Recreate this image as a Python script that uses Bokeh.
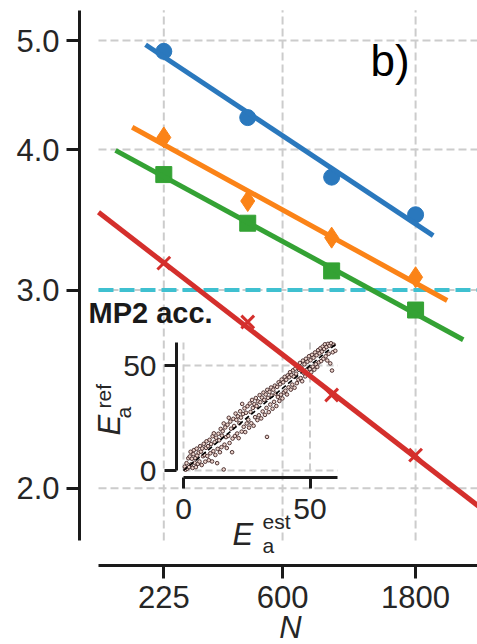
from bokeh.plotting import figure
from bokeh.models import (LogAxis, LinearAxis, FixedTicker, Range1d, Label,
                          LinearScale, BasicTickFormatter, PrintfTickFormatter)
from bokeh.embed import file_html
from bokeh.resources import INLINE

# ---------------- data ----------------
N = [225, 450, 900, 1800]
acc_circle = [4.89, 4.27, 3.78, 3.50]
acc_diamond = [4.10, 3.60, 3.34, 3.08]
acc_square = [3.80, 3.44, 3.12, 2.88]
acc_cross = [3.17, 2.81, 2.42, 2.14]

fit_N_circle = [193.5, 2082]
fit_circle = [4.957, 3.354]
fit_N_diamond = [173.3, 2337]
fit_diamond = [4.187, 2.937]
fit_N_square = [151.0, 2668]
fit_square = [3.993, 2.710]
fit_N_cross = [131.2, 3300]
fit_cross = [3.518, 1.896]

mp2_acc = 3.0

x_lim = [131.2, 3002]
y_lim = [1.797, 5.318]
x_ticks = [225, 600, 1800]
x_tick_labels = ["225", "600", "1800"]
y_ticks = [2.0, 3.0, 4.0, 5.0]
y_tick_labels = ["2.0", "3.0", "4.0", "5.0"]

inset_ticks = [0, 50]
inset_tick_labels = ["0", "50"]
inset_lim = [0, 61]
diag = [0, 60]

inset_est = [0.5, 0.8, 1.2, 1.5, 1.9, 2.2, 2.5, 2.8, 3.0, 3.3, 3.6, 3.9, 4.1, 4.4, 4.7, 4.9,
             5.2, 5.4, 5.7, 6.0, 6.3, 6.6, 6.9, 7.2, 7.4, 7.7, 8.0, 8.3, 8.6, 8.9, 9.1, 9.4, 9.7, 10.0,
             10.3, 10.6, 10.9, 11.3, 11.5, 11.8, 12.0, 12.3, 12.6, 12.9, 13.3, 13.5, 13.8, 14.1, 14.4, 14.7, 15.0, 15.2,
             15.5, 15.9, 15.9, 16.2, 16.5, 16.8, 17.1, 17.4, 17.7, 17.9, 18.2, 18.5, 18.8, 19.2, 19.4, 19.7, 20.0,
             20.3, 20.6, 20.9, 21.2, 21.5, 21.8, 22.1, 22.4, 22.7, 23.0, 23.2, 23.5, 23.8, 24.1, 24.4, 24.7, 25.0,
             25.3, 25.6, 25.9, 26.2, 26.5, 26.8, 27.1, 27.4, 27.7, 28.0, 28.3, 28.6, 28.9, 29.2, 29.5, 29.8, 30.1,
             30.4, 30.7, 31.0, 31.3, 31.6, 31.9, 32.2, 32.5, 32.8, 33.0, 33.1, 33.4, 33.7, 34.0, 34.3, 34.6, 34.9,
             35.2, 35.5, 35.8, 36.1, 36.4, 36.7, 37.0, 37.3, 37.6, 37.9, 38.2, 38.5, 38.8, 39.1, 39.4, 39.7, 40.0,
             40.3, 40.6, 40.9, 41.2, 41.5, 41.8, 42.1, 42.4, 42.7, 43.0, 43.3, 43.6, 43.9, 44.2, 44.5, 44.8,
             45.1, 45.4, 45.7, 46.0, 46.3, 46.6, 46.9, 47.2, 47.5, 47.8, 48.1, 48.4, 48.7, 49.0, 49.3, 49.6, 49.9,
             50.2, 50.5, 50.8, 51.1, 51.4, 51.7, 52.0, 52.3, 52.6, 52.9, 53.2, 53.5, 53.8, 54.1, 54.4, 54.7,
             55.0, 55.3, 55.6, 55.9, 56.2, 56.5, 56.8, 57.1, 57.4, 57.7, 58.0, 58.3, 58.7, 59.0, 59.4, 60.0]
inset_ref = [1.8, 0.4, 3.5, 0.9, 5.8, 1.6, 6.7, 8.9, 2.9, 5.6, 1.2, 7.8, 9.7, 3.7, 5.9, 1.6,
             10.4, 7.1, 3.2, 8.5, 4.3, 11.6, 9.0, 2.6, 10.5, 6.8, 12.7, 7.4, 4.2, 10.8, 13.9, 6.9, 11.6, 4.9,
             14.6, 8.2, 12.6, 4.3, 16.3, 9.2, 17.7, 13.5, 7.4, 15.6, 3.5, 10.3, 17.5, 14.4, 8.7, 19.8, 11.1, 16.6,
             18.7, 0.5, 22.4, 12.3, 20.5, 15.9, 10.7, 21.8, 16.5, 25.1, 13.1, 23.3, 19.9, 8.7, 15.2, 24.6, 21.2,
             16.4, 27.1, 24.1, 17.6, 25.8, 15.4, 22.5, 28.2, 25.2, 18.5, 31.7, 26.9, 20.8, 29.6, 18.3, 27.5, 22.4,
             30.6, 24.2, 20.4, 31.9, 27.9, 22.5, 33.6, 29.8, 21.3, 31.6, 25.4, 34.5, 30.7, 24.0, 32.9, 26.3, 35.9,
             32.5, 24.8, 34.7, 28.1, 37.1, 33.6, 26.5, 36.2, 29.8, 16.0, 38.4, 34.6, 27.8, 37.4, 31.4, 39.5, 35.7,
             29.4, 38.5, 32.7, 40.4, 36.6, 30.7, 39.8, 35.0, 42.0, 33.1, 41.1, 36.1, 43.3, 34.3, 42.0, 37.2, 44.6,
             38.0, 43.2, 36.2, 45.3, 39.6, 44.4, 46.8, 38.5, 45.5, 40.9, 47.7, 44.7, 39.4, 48.5, 46.1, 41.6,
             49.6, 43.3, 47.9, 51.2, 44.0, 49.1, 42.5, 52.3, 46.4, 50.6, 44.8, 53.2, 47.9, 51.8, 45.6, 54.4, 48.3,
             52.5, 46.8, 55.1, 49.4, 53.7, 48.0, 56.2, 50.6, 54.9, 49.3, 57.3, 51.5, 55.8, 58.2, 52.1, 56.6,
             59.0, 53.2, 57.9, 60.1, 54.4, 58.8, 52.4, 60.3, 55.6, 59.4, 51.0, 60.6, 47.6, 56.3, 59.9, 57.0]

# ---------------- layout / style ----------------
W, H = 477, 644
YSPINE_PX, XSPINE_PX = 79, 565             # offset spines (px)
X_PX_225, X_PX_PER_DEC = 163.3, 278.8      # log x mapping
Y_PX_5, Y_PX_PER_DEC = 40.0, 1125.0        # log y mapping
FONT = "Liberation Sans"
TXT = "#262626"
SPINE = "#1a1a1a"
GRID = "#cccccc"
C_BLUE, C_ORANGE, C_GREEN, C_RED, C_CYAN = "#2a78bd", "#fb8317", "#34a234", "#d42f2c", "#3fc0d0"

def xval(px):
    return 225 * 10 ** ((px - X_PX_225) / X_PX_PER_DEC)

def yval(py):
    return 5.0 * 10 ** (-(py - Y_PX_5) / Y_PX_PER_DEC)

p = figure(width=W, height=H, x_axis_type="log", y_axis_type="log",
           x_range=Range1d(xval(0), xval(W)), y_range=Range1d(yval(H), yval(0)),
           x_axis_location=None, y_axis_location=None,
           output_backend="svg", toolbar_location=None,
           min_border=0)
p.outline_line_color = None
p.background_fill_color = "white"
p.border_fill_color = "white"
for g in p.grid:
    g.visible = False

def style_axis(ax, tick_out, standoff, size="31px"):
    ax.axis_line_width = 3
    ax.axis_line_color = SPINE
    ax.major_tick_line_width = 3
    ax.major_tick_line_color = SPINE
    ax.major_tick_out = tick_out
    ax.major_tick_in = 0
    ax.minor_tick_line_color = None
    ax.minor_tick_out = 0
    ax.minor_tick_in = 0
    ax.major_label_standoff = standoff
    ax.major_label_text_font = FONT
    ax.major_label_text_font_size = size
    ax.major_label_text_color = TXT

# main axes (offset spines)
yax = LogAxis(ticker=FixedTicker(ticks=y_ticks), formatter=PrintfTickFormatter(format="%.1f"),
              major_label_overrides=dict(zip(y_ticks, y_tick_labels)),
              fixed_location=xval(YSPINE_PX), bounds=tuple(y_lim))
style_axis(yax, 13, 7)
p.add_layout(yax, "left")
xax = LogAxis(ticker=FixedTicker(ticks=x_ticks), formatter=BasicTickFormatter(),
              major_label_overrides=dict(zip(x_ticks, x_tick_labels)),
              fixed_location=yval(XSPINE_PX), bounds=tuple(x_lim))
style_axis(xax, 13, 7)
p.add_layout(xax, "below")

# main grid, limited to the axes box
p.multi_line(xs=[[t, t] for t in x_ticks] + [x_lim for t in y_ticks],
             ys=[y_lim for t in x_ticks] + [[t, t] for t in y_ticks],
             line_color=GRID, line_width=2, line_dash="8 4")

# MP2 accuracy reference line
p.line(x_lim, [mp2_acc, mp2_acc], line_color=C_CYAN, line_width=4, line_dash="15 6")

# ---------------- inset (own linear ranges) ----------------
IX0, IY0 = 183, 470            # px of inset origin
SX, SY = 2.53, 2.1             # px per unit
p.extra_x_ranges = {"ix": Range1d(-IX0 / SX, (W - IX0) / SX)}
p.extra_y_ranges = {"iy": Range1d(-(H - IY0) / SY, IY0 / SY)}
p.extra_x_scales = {"ix": LinearScale()}
p.extra_y_scales = {"iy": LinearScale()}

iy_ax = LinearAxis(x_range_name="ix", y_range_name="iy", fixed_location=(176 - IX0) / SX,
                   bounds=tuple(inset_lim), ticker=FixedTicker(ticks=inset_ticks),
                   major_label_overrides=dict(zip(inset_ticks, inset_tick_labels)))
style_axis(iy_ax, 12, 8, "30px")
p.add_layout(iy_ax, "left")
ix_ax = LinearAxis(x_range_name="ix", y_range_name="iy", fixed_location=-(477 - IY0) / SY,
                   bounds=tuple(inset_lim), ticker=FixedTicker(ticks=inset_ticks),
                   major_label_overrides=dict(zip(inset_ticks, inset_tick_labels)))
style_axis(ix_ax, 11, 10, "30px")
p.add_layout(ix_ax, "below")

p.multi_line(xs=[[t, t] for t in inset_ticks] + [inset_lim for t in inset_ticks],
             ys=[inset_lim for t in inset_ticks] + [[t, t] for t in inset_ticks],
             x_range_name="ix", y_range_name="iy",
             line_color=GRID, line_width=2, line_dash="7 4")

p.scatter(inset_est, inset_ref, x_range_name="ix", y_range_name="iy",
          size=3.6, line_color="#3e2222", fill_color="#ecd4cc", line_width=0.9)
p.line(diag, diag, x_range_name="ix", y_range_name="iy",
       line_color="black", line_width=1.6, line_dash="5 3")

# ---------------- main series ----------------
p.scatter(N, acc_circle, marker="circle", size=16, color=C_BLUE)
p.scatter(N, acc_diamond, marker="diamond", size=21, color=C_ORANGE)
p.scatter(N, acc_square, marker="square", size=16, color=C_GREEN)
p.scatter(N, acc_cross, marker="x", size=18, line_color=C_RED, line_width=3)

for xs, ys, c in ((fit_N_circle, fit_circle, C_BLUE), (fit_N_diamond, fit_diamond, C_ORANGE),
                  (fit_N_square, fit_square, C_GREEN), (fit_N_cross, fit_cross, C_RED)):
    p.line(xs, ys, line_color=c, line_width=5)

# ---------------- texts ----------------
ROT = 1.5707963

def lab(text, px, py, size, style="normal", align="left", angle=0.0, color=TXT):
    """(px, py): start of text on its baseline, canvas pixels from top-left."""
    off = 0.35 * size
    if angle == 0.0:
        ax_, ay_ = px, py - off
    else:
        ax_, ay_ = px - off, py
    p.add_layout(Label(x=ax_, y=H - ay_, x_units="screen", y_units="screen", text=text,
                       text_font=FONT, text_font_size=f"{size}px", text_font_style=style,
                       text_color=color, text_align=align, text_baseline="middle", angle=angle))

lab("b)", 370, 75, 44, color="black")
lab("MP2 acc.", 88, 323, 29, style="bold", color="#1a1a1a")
lab("N", 290, 638, 31, style="italic", align="center")

# inset x label  E_a^est
lab("E", 232, 545, 31, style="italic")
lab("a", 262, 552, 21)
lab("est", 262, 528, 21)
# inset y label  E_a^ref (rotated)
lab("E", 120, 435, 31, style="italic", angle=ROT)
lab("a", 130, 418, 21, angle=ROT)
lab("ref", 110, 408, 21, angle=ROT)

open("out.html", "w").write(file_html(p, INLINE))
